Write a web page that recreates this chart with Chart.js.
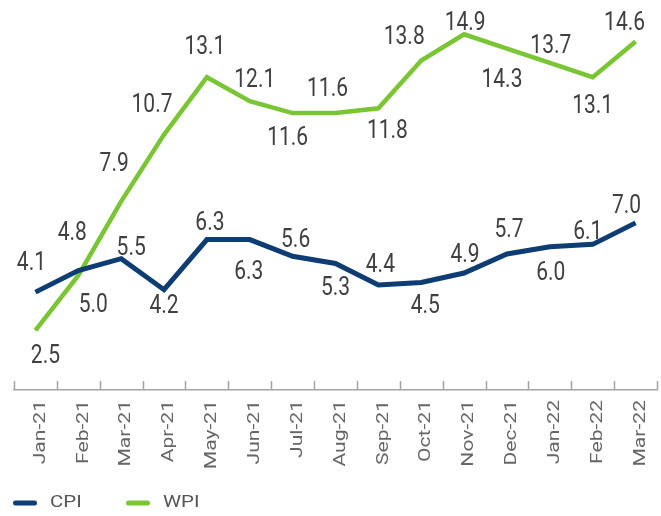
<!DOCTYPE html>
<html>
<head>
<meta charset="utf-8">
<script src="https://cdn.jsdelivr.net/npm/chart.js@4/dist/chart.umd.min.js"></script>
<style>
  html, body { margin: 0; padding: 0; background: #fff; }
</style>
</head>
<body>
<canvas id="chart" width="661" height="516"></canvas>
<script>
// Data
const months = ['Jan-21', 'Feb-21', 'Mar-21', 'Apr-21', 'May-21', 'Jun-21', 'Jul-21', 'Aug-21',
  'Sep-21', 'Oct-21', 'Nov-21', 'Dec-21', 'Jan-22', 'Feb-22', 'Mar-22'];
const cpi = [4.1, 5.0, 5.5, 4.2, 6.3, 6.3, 5.6, 5.3, 4.4, 4.5, 4.9, 5.7, 6.0, 6.1, 7.0];
const wpi = [2.5, 4.8, 7.9, 10.7, 13.1, 12.1, 11.6, 11.6, 11.8, 13.8, 14.9, 14.3, 13.7, 13.1, 14.6];

// where each value label sits relative to its point [dx, dy]
const cpiLabelPos = [[-4, -28], [15, 35], [10, -10], [0, 17], [3, -16], [-1, 33], [3, -16], [0, 25],
  [2, -19], [4, 24], [1, -17], [2, -23], [1, 27], [-5, -12], [-9, -16]];
const wpiLabelPos = [[10, 26], [-6, -42], [-7, -37], [-12, -29], [-2, -30], [5, -20], [-5, 26], [-8, -23],
  [9, 23], [-17, -23], [1, -11], [-5, 32], [1, -16], [0, 29], [-11, -18]];

const NAVY = '#0e3d74';
const GREEN = '#79c534';
const AXIS = '#a3a3a3';

// text is a bit taller than wide in the original
function stretchedText(ctx, text, x, y, sx, sy) {
  ctx.save();
  ctx.translate(x, y);
  ctx.scale(sx, sy);
  ctx.fillText(text, 0, 0);
  ctx.restore();
}

const extras = {
  id: 'extras',
  afterDraw(chart) {
    const ctx = chart.ctx;
    const xs = chart.scales.x;
    const bottom = chart.chartArea.bottom;
    const step = xs.getPixelForValue(1) - xs.getPixelForValue(0);

    // inward tick marks between categories
    ctx.save();
    ctx.strokeStyle = AXIS;
    ctx.lineWidth = 1.5;
    ctx.beginPath();
    for (let i = 0; i <= months.length; i++) {
      const x = Math.round(xs.getPixelForValue(0) + (i - 0.5) * step) + 0.5;
      ctx.moveTo(x, bottom);
      ctx.lineTo(x, bottom - 9);
    }
    ctx.stroke();
    ctx.restore();

    // month labels, vertical
    ctx.save();
    ctx.fillStyle = '#666';
    ctx.font = '17px Roboto';
    ctx.textAlign = 'right';
    ctx.textBaseline = 'middle';
    months.forEach((m, i) => {
      const x = xs.getPixelForValue(i) + 5;
      ctx.save();
      ctx.translate(x, bottom + 10);
      ctx.rotate(-Math.PI / 2);
      ctx.scale(1.24, 1);
      ctx.fillText(m, 0, 0);
      ctx.restore();
    });
    ctx.restore();

    // value labels
    ctx.save();
    ctx.fillStyle = '#404040';
    ctx.font = '21px Roboto';
    ctx.textAlign = 'center';
    ctx.textBaseline = 'middle';
    chart.data.datasets.forEach((ds, di) => {
      const meta = chart.getDatasetMeta(di);
      meta.data.forEach((pt, i) => {
        const off = ds.labelPos[i];
        stretchedText(ctx, ds.data[i].toFixed(1), pt.x + off[0], pt.y + off[1], 1, 1.2);
      });
    });
    ctx.restore();

    // legend
    ctx.save();
    ctx.font = '17px Roboto';
    ctx.textAlign = 'left';
    ctx.textBaseline = 'middle';
    let lx = 13;
    const ly = 503;
    chart.data.datasets.forEach(ds => {
      ctx.strokeStyle = ds.borderColor;
      ctx.lineWidth = 5;
      ctx.lineCap = 'round';
      ctx.beginPath();
      ctx.moveTo(lx + 2.5, ly);
      ctx.lineTo(lx + 21.5, ly);
      ctx.stroke();
      ctx.fillStyle = '#555';
      stretchedText(ctx, ds.label, lx + 37, ly, 1.2, 1);
      lx += 113;
    });
    ctx.restore();
  }
};

new Chart(document.getElementById('chart').getContext('2d'), {
  type: 'line',
  data: {
    labels: months,
    datasets: [
      {
        label: 'CPI',
        data: cpi,
        borderColor: NAVY,
        backgroundColor: NAVY,
        borderWidth: 5,
        pointRadius: 0,
        tension: 0,
        labelPos: cpiLabelPos
      },
      {
        label: 'WPI',
        data: wpi,
        borderColor: GREEN,
        backgroundColor: GREEN,
        borderWidth: 4.5,
        pointRadius: 0,
        tension: 0,
        labelPos: wpiLabelPos
      }
    ]
  },
  options: {
    responsive: false,
    animation: false,
    devicePixelRatio: 1,
    layout: { padding: { left: 14, right: 4, top: 8, bottom: 126 } },
    plugins: {
      legend: { display: false },
      tooltip: { enabled: false }
    },
    scales: {
      x: {
        offset: true,
        grid: { display: true, drawOnChartArea: false, drawTicks: false },
        border: { display: true, color: AXIS, width: 1.5 },
        ticks: { display: false }
      },
      y: {
        display: false,
        min: 0,
        max: 16
      }
    }
  },
  plugins: [extras]
});
</script>
</body>
</html>
